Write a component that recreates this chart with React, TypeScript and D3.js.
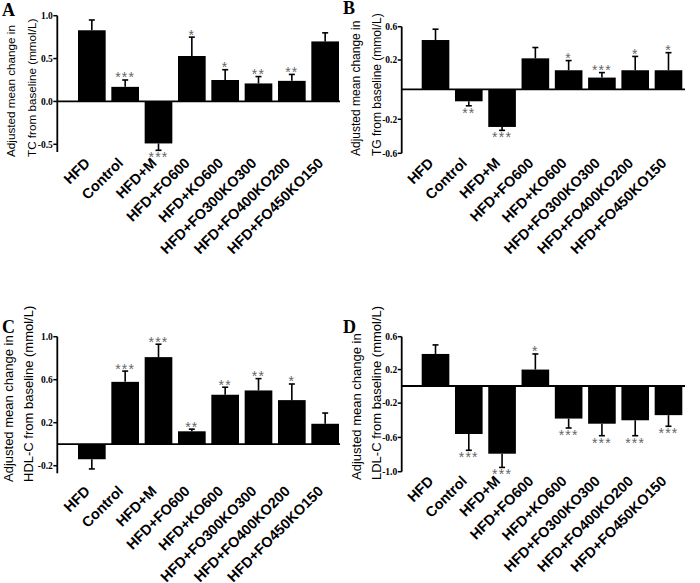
import React from "react";
import * as d3 from "d3";

const groups = [
  "HFD",
  "Control",
  "HFD+M",
  "HFD+FO600",
  "HFD+KO600",
  "HFD+FO300KO300",
  "HFD+FO400KO200",
  "HFD+FO450KO150",
];

// TC
const tcMean = [0.83, 0.17, -0.49, 0.53, 0.25, 0.21, 0.24, 0.7];
const tcErr = [0.12, 0.08, 0.08, 0.22, 0.12, 0.08, 0.075, 0.1];
const tcSig = ["", "***", "***", "*", "*", "**", "**", ""];
const tcTicks = [1.0, 0.5, 0.0, -0.5];

// TG
const tgMean = [0.44, -0.08, -0.29, 0.22, 0.13, 0.08, 0.13, 0.13];
const tgErr = [0.13, 0.03, 0.04, 0.13, 0.066, 0.034, 0.113, 0.158];
const tgSig = ["", "**", "***", "", "*", "***", "*", "*"];
const tgTicks = [0.6, 0.2, -0.2, -0.6];

// HDL-C
const hdlMean = [-0.14, 0.58, 0.81, 0.12, 0.46, 0.5, 0.41, 0.19];
const hdlErr = [0.09, 0.1, 0.12, 0.02, 0.07, 0.11, 0.15, 0.1];
const hdlSig = ["", "***", "***", "**", "**", "**", "*", ""];
const hdlTicks = [1.0, 0.6, 0.2, -0.2];

// LDL-C
const ldlMean = [0.39, -0.56, -0.79, 0.2, -0.38, -0.44, -0.4, -0.34];
const ldlErr = [0.11, 0.19, 0.16, 0.19, 0.11, 0.14, 0.18, 0.13];
const ldlSig = ["", "***", "***", "*", "***", "***", "***", "***"];
const ldlTicks = [0.6, 0.2, -0.2, -0.6, -1.0];

const fmt = (v: number) => v.toFixed(1);

function BarPanel(props: any) {
  const { letter, letterX, letterY, title2, mean, err, sig, ticks, y, axisX, band, zeroEnd, axisBottom, labelY, yl1, yl2, ylBottom, ylSize } = props;
  const x = d3.scaleBand<string>().domain(groups).range(band).paddingInner(0.17).paddingOuter(0);
  const bw = x.bandwidth();
  const y0 = y(0);
  return (
    <g>
      <text x={letterX} y={letterY} fontFamily="Liberation Serif, serif" fontWeight="bold" fontSize={18}>{letter}</text>
      <text transform={`translate(${yl1},${ylBottom}) rotate(-90)`} fontFamily="Liberation Sans, Arial, sans-serif" fontSize={ylSize}>Adjusted mean change in</text>
      <text transform={`translate(${yl2},${ylBottom}) rotate(-90)`} fontFamily="Liberation Sans, Arial, sans-serif" fontSize={ylSize}>{title2}</text>
      {mean.map((m: number, i: number) => {
        const g = groups[i];
        const cx = (x(g) as number) + bw / 2;
        const top = Math.min(y(m), y0);
        const h = Math.abs(y(m) - y0);
        const e = m >= 0 ? m + err[i] : m - err[i];
        const ye = y(e);
        return (
          <g key={g}>
            <rect x={x(g)} y={top} width={bw} height={h} fill="#000" />
            <line x1={cx} x2={cx} y1={y(m)} y2={ye} stroke="#000" strokeWidth={1.6} />
            <line x1={cx - 3} x2={cx + 3} y1={ye} y2={ye} stroke="#000" strokeWidth={1.6} />
            {sig[i] && (
              <text x={cx} y={m >= 0 ? ye + 2.4 : ye + 12} textAnchor="middle" fontFamily="Liberation Sans, Arial, sans-serif" fontSize={14} letterSpacing={1.2} fill="#666">{sig[i]}</text>
            )}
            <text transform={`translate(${cx - 1},${labelY}) rotate(-45)`} textAnchor="end" fontFamily="Liberation Sans, Arial, sans-serif" fontWeight="bold" fontSize={14.5}>{g}</text>
          </g>
        );
      })}
      <line x1={axisX} x2={zeroEnd} y1={y0} y2={y0} stroke="#000" strokeWidth={1.8} />
      <line x1={axisX} x2={axisX} y1={y(ticks[0])} y2={axisBottom} stroke="#000" strokeWidth={1.8} />
      {ticks.map((t: number) => (
        <g key={t}>
          <line x1={axisX - 4} x2={axisX} y1={y(t)} y2={y(t)} stroke="#000" strokeWidth={1.5} />
          <text x={axisX - 4.5} y={y(t)} dy="0.35em" textAnchor="end" fontFamily="Liberation Serif, serif" fontWeight="bold" fontSize={9.5}>{fmt(t)}</text>
        </g>
      ))}
    </g>
  );
}

export default function App() {
  const yA = d3.scaleLinear().domain([-0.5, 1.0]).range([144.3, 15.7]);
  const yB = d3.scaleLinear().domain([-0.6, -0.2, 0, 0.2, 0.6]).range([153.3, 119.3, 89.3, 60, 26.7]);
  const yC = d3.scaleLinear().domain([-0.2, 1.0]).range([465.7, 336.7]);
  const yD = d3.scaleLinear().domain([-1.0, 0, 0.6]).range([471.7, 386, 336.7]);
  return (
    <svg width={700} height={583} style={{ position: "absolute", left: 0, top: 0, background: "#fff" }}>
      <rect width={700} height={583} fill="#fff" />
      <BarPanel letter="A" letterX={2} letterY={16} title2="TC from baseline (mmol/L)" mean={tcMean} err={tcErr} sig={tcSig} ticks={tcTicks} y={yA}
        axisX={57.3} band={[78, 339]} zeroEnd={340} axisBottom={152} labelY={164} yl1={15} yl2={36} ylBottom={157} ylSize={11.7} />
      <BarPanel letter="B" letterX={343} letterY={14} title2="TG from baseline (mmol/L)" mean={tgMean} err={tgErr} sig={tgSig} ticks={tgTicks} y={yB}
        axisX={401.7} band={[421.7, 682.3]} zeroEnd={685} axisBottom={153.3} labelY={164} yl1={360} yl2={381} ylBottom={156} ylSize={12} />
      <BarPanel letter="C" letterX={2} letterY={333} title2="HDL-C from baseline (mmol/L)" mean={hdlMean} err={hdlErr} sig={hdlSig} ticks={hdlTicks} y={yC}
        axisX={57.3} band={[78, 339]} zeroEnd={340} axisBottom={473.3} labelY={492} yl1={13} yl2={33} ylBottom={482} ylSize={13} />
      <BarPanel letter="D" letterX={343} letterY={333} title2="LDL-C from baseline (mmol/L)" mean={ldlMean} err={ldlErr} sig={ldlSig} ticks={ldlTicks} y={yD}
        axisX={401.7} band={[421.7, 682.3]} zeroEnd={685} axisBottom={471.7} labelY={482} yl1={361} yl2={381} ylBottom={480} ylSize={13} />
    </svg>
  );
}
